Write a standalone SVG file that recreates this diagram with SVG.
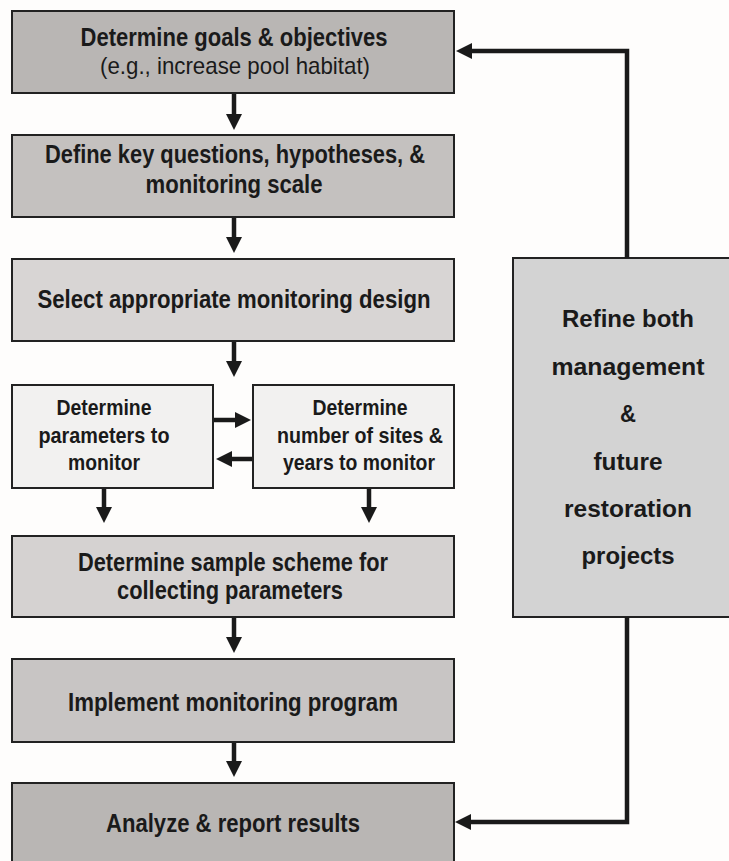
<svg xmlns="http://www.w3.org/2000/svg" width="729" height="861" viewBox="0 0 729 861">
<style>
.box{stroke:#222;stroke-width:2}
.t{font-family:"Liberation Sans",Arial,sans-serif;font-weight:bold;font-size:25px;fill:#1a1a1a;text-anchor:middle}
.s{font-size:22.5px}
.m{font-size:24.5px}
.r{font-weight:normal;font-size:24px}
.c{fill:none;stroke:#1a1a1a;stroke-width:4.5;stroke-linejoin:miter;stroke-linecap:butt}
</style>
<defs>
<marker id="ah" markerUnits="userSpaceOnUse" markerWidth="16" markerHeight="16" refX="0" refY="8" orient="auto" overflow="visible">
<path d="M0,0 L16,8 L0,16 z" fill="#1a1a1a"/>
</marker>
</defs>
<rect x="0" y="0" width="729" height="861" fill="#fefdfc"/>

<g id="goals">
<rect class="box" x="12" y="11" width="442" height="82" fill="#b9b6b4"/>
<text class="t" x="234" y="46" textLength="307" lengthAdjust="spacingAndGlyphs">Determine goals &amp; objectives</text>
<text class="t r" x="235" y="74" textLength="270" lengthAdjust="spacingAndGlyphs">(e.g., increase pool habitat)</text>
</g>

<g id="questions">
<rect class="box" x="12" y="135" width="442" height="82" fill="#c4c1bf"/>
<text class="t" x="235" y="163" textLength="380" lengthAdjust="spacingAndGlyphs">Define key questions, hypotheses, &amp;</text>
<text class="t" x="234" y="193" textLength="177" lengthAdjust="spacingAndGlyphs">monitoring scale</text>
</g>

<g id="design">
<rect class="box" x="12" y="259" width="442" height="82" fill="#d8d5d4"/>
<text class="t" x="234" y="308" textLength="393" lengthAdjust="spacingAndGlyphs">Select appropriate monitoring design</text>
</g>

<g id="parameters">
<rect class="box" x="12" y="385" width="201" height="103" fill="#f2f1f0"/>
<text class="t s" x="104" y="415" textLength="95" lengthAdjust="spacingAndGlyphs">Determine</text>
<text class="t s" x="104" y="443" textLength="131" lengthAdjust="spacingAndGlyphs">parameters to</text>
<text class="t s" x="104" y="470" textLength="72" lengthAdjust="spacingAndGlyphs">monitor</text>
</g>

<g id="sites">
<rect class="box" x="253" y="385" width="201" height="103" fill="#f2f1f0"/>
<text class="t s" x="360" y="415" textLength="95" lengthAdjust="spacingAndGlyphs">Determine</text>
<text class="t s" x="360" y="443" textLength="166" lengthAdjust="spacingAndGlyphs">number of sites &amp;</text>
<text class="t s" x="359" y="470" textLength="152" lengthAdjust="spacingAndGlyphs">years to monitor</text>
</g>

<g id="scheme">
<rect class="box" x="12" y="536" width="442" height="81" fill="#d5d2d1"/>
<text class="t" x="233" y="571" textLength="310" lengthAdjust="spacingAndGlyphs">Determine sample scheme for</text>
<text class="t" x="230" y="599" textLength="226" lengthAdjust="spacingAndGlyphs">collecting parameters</text>
</g>

<g id="implement">
<rect class="box" x="12" y="659" width="442" height="83" fill="#c8c5c4"/>
<text class="t" x="233" y="711" textLength="330" lengthAdjust="spacingAndGlyphs">Implement monitoring program</text>
</g>

<g id="analyze">
<rect class="box" x="12" y="783" width="442" height="90" fill="#b9b6b4"/>
<text class="t" x="233" y="832" textLength="254" lengthAdjust="spacingAndGlyphs">Analyze &amp; report results</text>
</g>

<g id="refine">
<rect class="box" x="513" y="258" width="240" height="359" fill="#d3d3d3"/>
<text class="t m" x="628" y="327" textLength="132" lengthAdjust="spacingAndGlyphs">Refine both</text>
<text class="t m" x="628" y="375" textLength="153" lengthAdjust="spacingAndGlyphs">management</text>
<text class="t m" x="628" y="422" textLength="16" lengthAdjust="spacingAndGlyphs">&amp;</text>
<text class="t m" x="628" y="470" textLength="69" lengthAdjust="spacingAndGlyphs">future</text>
<text class="t m" x="628" y="517" textLength="128" lengthAdjust="spacingAndGlyphs">restoration</text>
<text class="t m" x="628" y="564" textLength="93" lengthAdjust="spacingAndGlyphs">projects</text>
</g>

<g id="connectors">
<path class="c" d="M234,94 V114" marker-end="url(#ah)"/>
<path class="c" d="M234,218 V237" marker-end="url(#ah)"/>
<path class="c" d="M234,342 V361" marker-end="url(#ah)"/>
<path class="c" d="M214,420 H235" marker-end="url(#ah)"/>
<path class="c" d="M252,459 H232" marker-end="url(#ah)"/>
<path class="c" d="M104,489 V507" marker-end="url(#ah)"/>
<path class="c" d="M369,489 V507" marker-end="url(#ah)"/>
<path class="c" d="M234,618 V637" marker-end="url(#ah)"/>
<path class="c" d="M234,743 V761" marker-end="url(#ah)"/>
<path class="c" d="M627,258 V51 H472" marker-end="url(#ah)"/>
<path class="c" d="M627,617 V822 H471" marker-end="url(#ah)"/>
</g>
</svg>
